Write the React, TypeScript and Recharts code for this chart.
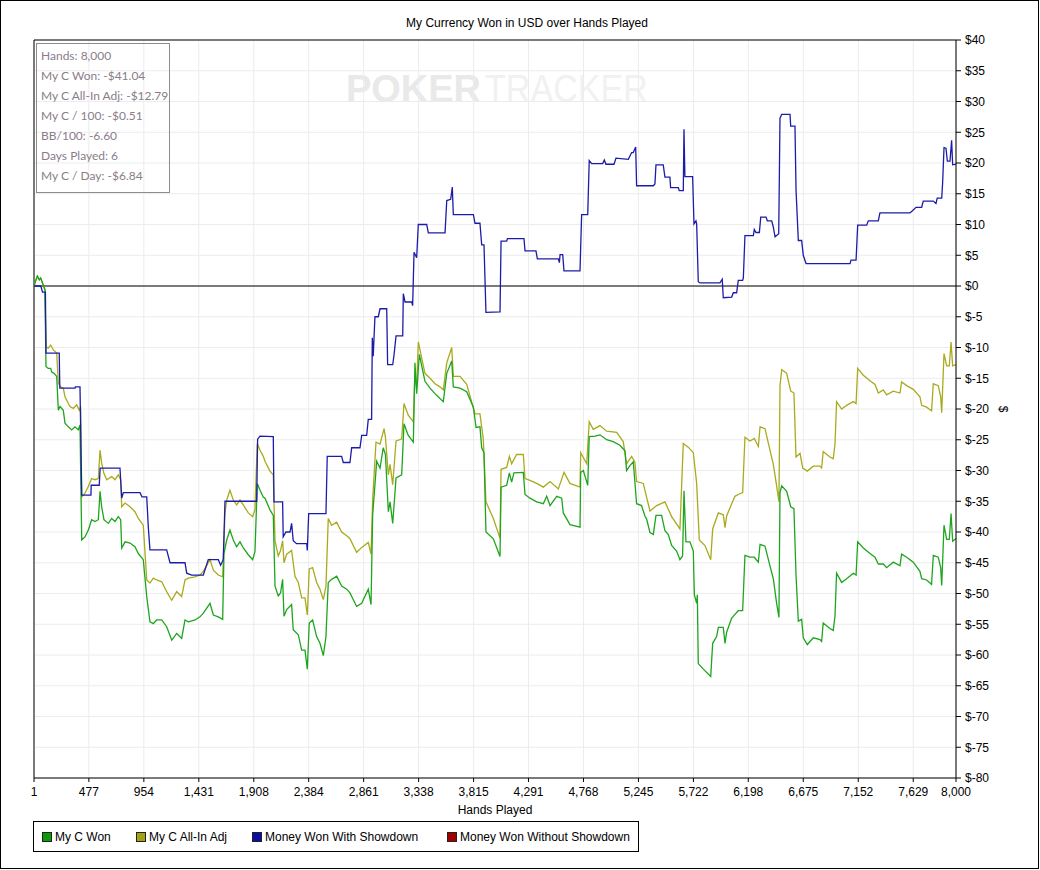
import React from 'react';
import { LineChart, Line, XAxis, YAxis, CartesianGrid, ReferenceLine, Label } from 'recharts';

const xTicks = [1, 477, 954, 1431, 1908, 2384, 2861, 3338, 3815, 4291, 4768, 5245, 5722, 6198, 6675, 7152, 7629, 8000];
const yTicks = [-80, -75, -70, -65, -60, -55, -50, -45, -40, -35, -30, -25, -20, -15, -10, -5, 0, 5, 10, 15, 20, 25, 30, 35, 40];

const statLines = [
  'Hands: 8,000',
  'My C Won: -$41.04',
  'My C All-In Adj: -$12.79',
  'My C / 100: -$0.51',
  'BB/100: -6.60',
  'Days Played: 6',
  'My C / Day: -$6.84',
];

const myCWon: [number, number][] = [
  [1, 0], [18, 1.0], [30, 1.6], [47, 1.0], [59, 1.3], [76, 0.4], [96, -0.6], [105, -13.1], [124, -13.4], [146, -13.4],
  [155, -14.0], [175, -14.2], [198, -14.7], [212, -20.2], [227, -19.6], [255, -20.2], [270, -22.3], [299, -22.9], [328, -23.4],
  [357, -22.9], [385, -23.4], [400, -22.6], [415, -41.3], [443, -40.8], [472, -39.7], [501, -38.0], [530, -38.3], [559, -38.0],
  [574, -33.4], [588, -35.9], [608, -38.0], [646, -38.6], [675, -37.8], [704, -38.3], [732, -37.5], [753, -38.0], [762, -42.6],
  [791, -41.6], [834, -41.8], [877, -42.4], [906, -43.5], [949, -44.5], [979, -50.5], [1007, -54.6], [1036, -54.9], [1065, -54.3],
  [1109, -54.3], [1152, -55.4], [1196, -57.6], [1239, -56.5], [1282, -57.3], [1311, -54.3], [1340, -54.6], [1398, -54.3],
  [1441, -53.8], [1470, -53.2], [1528, -51.6], [1557, -53.5], [1600, -53.8], [1638, -54.2], [1649, -43.5], [1673, -41.3],
  [1701, -39.7], [1730, -41.3], [1759, -42.4], [1788, -41.6], [1817, -42.6], [1860, -43.7], [1898, -44.5], [1918, -43.2],
  [1938, -32.1], [1962, -33.2], [1990, -34.3], [2005, -34.5], [2048, -36.4], [2077, -37.3], [2092, -48.8], [2120, -50.4],
  [2140, -49.9], [2158, -47.7], [2170, -53.7], [2193, -52.6], [2236, -51.8], [2250, -55.9], [2294, -56.7], [2323, -59.2],
  [2352, -59.2], [2372, -62.3], [2389, -54.8], [2418, -54.3], [2453, -57.0], [2482, -58.1], [2511, -60.1], [2534, -57.0],
  [2554, -48.2], [2583, -47.7], [2627, -47.2], [2670, -48.8], [2714, -49.3], [2742, -49.9], [2800, -52.1], [2844, -51.6],
  [2901, -49.3], [2925, -51.8], [2939, -37.3], [2974, -28.5], [3003, -29.6], [3031, -26.3], [3050, -27.4], [3075, -36.7],
  [3090, -35.1], [3113, -38.6], [3142, -31.2], [3191, -30.7], [3211, -22.4], [3248, -24.3], [3292, -25.4], [3306, -12.5],
  [3321, -17.5], [3344, -11.1], [3393, -15.5], [3437, -16.6], [3480, -17.5], [3523, -18.3], [3552, -18.8], [3582, -14.2],
  [3625, -12.2], [3639, -16.4], [3697, -16.6], [3755, -17.2], [3813, -19.7], [3836, -23.0], [3870, -22.9], [3885, -26.3],
  [3905, -27.1], [3922, -40.0], [3986, -41.1], [4044, -44.0], [4053, -32.7], [4102, -32.4], [4125, -30.4], [4145, -31.9],
  [4165, -30.4], [4246, -30.3], [4261, -33.9], [4304, -34.5], [4362, -35.1], [4420, -35.4], [4449, -34.2], [4478, -35.7],
  [4536, -34.2], [4579, -34.5], [4593, -36.9], [4651, -38.8], [4738, -39.2], [4744, -30.3], [4767, -30.0], [4805, -32.4],
  [4818, -24.5], [4868, -24.4], [4911, -24.2], [4969, -25.0], [5026, -25.3], [5084, -25.9], [5128, -26.8], [5142, -30.0],
  [5171, -29.2], [5200, -28.6], [5214, -31.8], [5229, -35.4], [5272, -35.7], [5301, -37.4], [5316, -37.9], [5345, -40.1],
  [5374, -40.4], [5397, -37.3], [5446, -37.3], [5475, -39.8], [5504, -40.4], [5533, -42.2], [5576, -43.1], [5605, -44.5],
  [5628, -43.9], [5640, -33.3], [5657, -41.6], [5692, -41.6], [5721, -43.1], [5730, -50.2], [5750, -51.6], [5756, -50.2],
  [5764, -61.4], [5808, -62.3], [5872, -63.5], [5889, -58.1], [5923, -57.0], [5938, -55.5], [5981, -55.5], [5996, -58.1],
  [6010, -56.3], [6054, -54.0], [6082, -53.4], [6111, -52.8], [6149, -52.8], [6169, -43.8], [6212, -44.1], [6250, -44.1],
  [6285, -44.9], [6300, -42.0], [6343, -42.3], [6386, -45.5], [6415, -47.6], [6444, -51.6], [6464, -53.9], [6473, -33.6],
  [6488, -32.5], [6531, -33.4], [6566, -35.9], [6594, -36.2], [6612, -47.0], [6632, -54.5], [6661, -54.2], [6675, -57.2],
  [6710, -58.3], [6762, -57.2], [6820, -57.5], [6834, -57.8], [6848, -54.8], [6906, -55.7], [6935, -56.0], [6950, -53.7],
  [6964, -46.7], [7008, -48.2], [7051, -47.6], [7109, -46.7], [7133, -47.0], [7147, -41.6], [7196, -42.6], [7254, -43.5],
  [7297, -44.1], [7326, -45.2], [7369, -45.2], [7398, -45.8], [7456, -44.9], [7514, -45.5], [7528, -43.6], [7572, -44.1],
  [7629, -44.9], [7687, -46.4], [7702, -47.6], [7745, -47.8], [7788, -48.5], [7803, -43.8], [7846, -44.1], [7867, -45.8],
  [7876, -48.7], [7896, -38.9], [7919, -41.2], [7942, -41.2], [7957, -37.0], [7971, -41.5], [8000, -41.04],
];

const myCAllInAdj: [number, number][] = [
  [1, 0], [18, 1.0], [30, 1.6], [47, 1.0], [59, 1.3], [76, 0.4], [96, -0.6], [105, -9.9], [124, -10.1], [146, -9.6],
  [169, -10.4], [198, -10.9], [212, -15.8], [233, -16.4], [255, -16.6], [270, -18.0], [299, -19.1], [313, -19.6], [342, -19.9],
  [371, -19.3], [394, -20.2], [406, -19.6], [415, -34.3], [443, -33.7], [472, -32.6], [501, -31.3], [530, -31.5], [559, -31.3],
  [574, -26.7], [588, -28.8], [608, -30.5], [632, -31.5], [675, -31.0], [704, -31.5], [732, -30.7], [753, -31.5], [762, -35.9],
  [791, -35.3], [834, -35.9], [877, -36.7], [906, -37.8], [949, -38.9], [979, -47.8], [1007, -48.3], [1036, -47.5], [1065, -47.8],
  [1109, -48.1], [1152, -49.7], [1196, -51.1], [1239, -49.7], [1282, -50.5], [1311, -47.8], [1340, -47.5], [1398, -47.3],
  [1441, -47.0], [1470, -46.4], [1528, -44.5], [1557, -46.2], [1600, -47.0], [1638, -47.3], [1658, -36.9], [1673, -34.8],
  [1701, -33.2], [1730, -34.8], [1759, -35.6], [1788, -34.8], [1817, -35.6], [1860, -36.9], [1898, -37.5], [1918, -36.4],
  [1938, -25.6], [1962, -26.7], [1990, -27.7], [2005, -28.5], [2048, -30.1], [2077, -30.7], [2092, -41.4], [2120, -43.9],
  [2140, -43.0], [2158, -41.4], [2170, -45.0], [2193, -43.6], [2236, -43.0], [2265, -47.2], [2294, -48.2], [2323, -50.7],
  [2352, -50.7], [2372, -53.5], [2389, -46.0], [2418, -45.8], [2453, -48.2], [2482, -49.3], [2511, -51.0], [2534, -48.8],
  [2554, -37.8], [2583, -38.9], [2627, -38.4], [2670, -40.0], [2714, -40.6], [2742, -41.1], [2800, -43.3], [2844, -42.5],
  [2901, -41.7], [2925, -43.6], [2939, -34.8], [2968, -25.4], [3003, -25.7], [3038, -23.2], [3050, -24.6], [3075, -30.7],
  [3090, -29.0], [3113, -32.3], [3142, -25.2], [3191, -24.9], [3211, -19.1], [3248, -21.0], [3292, -22.1], [3306, -14.2],
  [3321, -16.4], [3335, -9.1], [3393, -14.2], [3437, -15.0], [3480, -15.9], [3523, -16.4], [3552, -16.9], [3582, -12.5],
  [3625, -10.0], [3639, -14.7], [3697, -14.7], [3755, -16.0], [3827, -20.8], [3870, -20.8], [3899, -24.9], [3922, -35.1],
  [3986, -37.8], [4044, -41.0], [4053, -29.8], [4102, -29.5], [4125, -27.7], [4145, -28.9], [4188, -27.4], [4246, -27.4],
  [4261, -31.3], [4304, -31.6], [4362, -32.1], [4420, -32.7], [4478, -31.8], [4550, -33.0], [4599, -30.3], [4651, -32.1],
  [4738, -32.7], [4744, -27.1], [4796, -28.9], [4818, -22.1], [4853, -23.3], [4911, -22.7], [4969, -23.6], [5056, -23.8],
  [5113, -25.3], [5142, -28.9], [5186, -27.7], [5214, -28.6], [5229, -31.8], [5287, -32.1], [5345, -36.6], [5403, -35.7],
  [5475, -35.1], [5533, -37.5], [5605, -39.5], [5634, -25.6], [5677, -26.2], [5721, -27.1], [5750, -32.1], [5773, -41.3],
  [5822, -42.2], [5872, -44.5], [5889, -39.5], [5938, -36.9], [5981, -37.2], [5996, -39.3], [6010, -37.4], [6054, -35.4],
  [6082, -34.2], [6111, -33.9], [6149, -33.6], [6169, -24.6], [6212, -25.2], [6250, -24.8], [6285, -26.1], [6300, -22.9],
  [6343, -23.2], [6386, -26.7], [6415, -29.0], [6444, -32.5], [6464, -35.1], [6473, -16.2], [6488, -13.6], [6531, -14.2],
  [6566, -17.1], [6594, -17.4], [6612, -27.8], [6647, -27.2], [6670, -29.6], [6710, -30.1], [6762, -29.3], [6820, -29.3],
  [6834, -29.6], [6848, -26.9], [6906, -27.8], [6935, -28.1], [6950, -25.8], [6964, -18.8], [7008, -20.0], [7051, -19.4],
  [7109, -18.8], [7133, -19.1], [7147, -13.4], [7196, -14.5], [7254, -15.4], [7297, -16.0], [7326, -17.4], [7369, -16.9],
  [7398, -17.7], [7456, -17.1], [7514, -17.4], [7528, -15.6], [7572, -16.2], [7629, -16.8], [7687, -18.0], [7702, -19.4],
  [7745, -19.7], [7788, -20.3], [7803, -15.9], [7846, -16.2], [7867, -18.0], [7876, -20.6], [7896, -11.0], [7919, -13.0],
  [7942, -13.0], [7957, -9.1], [7971, -13.0], [8000, -12.79],
];

const wonWithShowdown: [number, number][] = [
  [1, 0], [60, 0], [75, -1.0], [100, -1.0], [105, -10.9], [220, -10.9], [225, -16.6], [357, -16.6], [360, -16.4], [400, -16.4],
  [415, -34.0], [495, -34.0], [497, -32.4], [567, -32.4], [575, -29.6], [747, -29.6], [762, -34.5], [776, -33.6], [921, -33.6],
  [938, -34.3], [979, -34.3], [993, -39.3], [1007, -42.9], [1152, -42.9], [1181, -45.0], [1311, -45.0], [1326, -46.7],
  [1369, -47.0], [1470, -47.0], [1513, -44.5], [1600, -44.5], [1620, -45.4], [1643, -44.5], [1658, -35.0], [1933, -35.0],
  [1941, -24.9], [1962, -24.4], [2077, -24.5], [2083, -35.1], [2158, -35.1], [2163, -40.8], [2187, -40.0], [2222, -40.0],
  [2236, -38.6], [2250, -41.4], [2279, -41.9], [2367, -41.9], [2372, -43.0], [2384, -37.0], [2534, -37.0], [2545, -27.7],
  [2670, -27.7], [2684, -28.7], [2742, -28.7], [2757, -26.3], [2829, -26.3], [2844, -24.3], [2887, -24.3], [2901, -21.7],
  [2930, -21.7], [2936, -8.4], [2944, -11.4], [2959, -5.0], [2988, -5.0], [3003, -3.7], [3061, -3.7], [3069, -12.8],
  [3113, -12.8], [3124, -11.3], [3142, -8.1], [3200, -8.1], [3205, -1.25], [3220, -2.6], [3278, -2.6], [3286, -3.2],
  [3298, 5.5], [3321, 4.6], [3335, 10.0], [3408, 10.0], [3422, 8.65], [3567, 8.65], [3582, 13.9], [3616, 14.1], [3630, 16.1],
  [3639, 11.6], [3813, 11.6], [3827, 10.2], [3870, 10.2], [3885, 6.7], [3905, 6.7], [3922, -4.3], [4044, -4.2], [4053, 7.3],
  [4102, 7.3], [4108, 7.7], [4252, 7.7], [4261, 5.7], [4356, 5.7], [4368, 4.4], [4550, 4.4], [4559, 3.8], [4565, 5.1],
  [4588, 5.1], [4599, 2.45], [4738, 2.45], [4752, 11.6], [4805, 11.6], [4818, 20.4], [4839, 19.9], [4935, 19.9], [4949, 20.5],
  [4963, 19.8], [5033, 19.8], [5050, 20.8], [5157, 20.6], [5186, 21.7], [5200, 21.7], [5221, 22.6], [5229, 16.3], [5374, 16.3],
  [5388, 16.6], [5397, 19.7], [5460, 19.7], [5475, 17.7], [5518, 17.7], [5524, 16.0], [5591, 16.0], [5599, 15.5], [5634, 15.5],
  [5640, 25.5], [5648, 17.8], [5715, 17.8], [5727, 10.1], [5744, 10.6], [5750, 10.1], [5764, 0.7], [5779, 0.5], [5952, 0.5],
  [5972, 1.1], [5981, -1.9], [6054, -1.8], [6068, -1.1], [6097, -1.1], [6111, 0.9], [6149, 0.9], [6155, 1.3], [6169, 8.2],
  [6242, 8.2], [6250, 9.2], [6265, 8.7], [6294, 8.7], [6306, 11.2], [6352, 11.2], [6363, 10.6], [6401, 10.6], [6415, 9.6],
  [6430, 8.0], [6462, 8.5], [6473, 27.3], [6488, 27.9], [6560, 27.9], [6566, 26.0], [6603, 26.0], [6612, 15.7], [6632, 7.4],
  [6661, 7.4], [6675, 5.0], [6699, 3.65], [7081, 3.65], [7089, 4.2], [7133, 4.2], [7147, 9.9], [7225, 9.9], [7239, 10.6],
  [7326, 10.6], [7340, 11.9], [7600, 11.9], [7615, 12.1], [7653, 12.8], [7702, 12.8], [7716, 13.8], [7803, 13.8], [7826, 13.4],
  [7837, 14.3], [7876, 14.3], [7884, 16.8], [7896, 22.5], [7913, 22.4], [7925, 20.3], [7948, 20.3], [7962, 23.7], [7971, 19.7],
  [8000, 19.8],
];

const wonWithoutShowdown: [number, number][] = [];

const series = [
  { name: 'My C Won', color: '#1ea51e', box: '#0a9a0a', values: myCWon, drawOrder: 1 },
  { name: 'My C All-In Adj', color: '#aaaa1e', box: '#a3a314', values: myCAllInAdj, drawOrder: 0 },
  { name: 'Money Won With Showdown', color: '#1c1caa', box: '#0c0ca6', values: wonWithShowdown, drawOrder: 2 },
  { name: 'Money Won Without Showdown', color: '#b01010', box: '#a00000', values: wonWithoutShowdown, drawOrder: 3 },
];

const toRows = (arr: [number, number][]) => arr.map(([h, v]) => ({ h, v }));
const fmtHands = (v: number) => v.toLocaleString('en-US');
const fmtMoney = (v: number) => (v < 0 ? `$-${-v}` : `$${v}`);

const FONT = '"Liberation Sans", Arial, sans-serif';

export default function App() {
  const drawn = [...series].sort((a, b) => a.drawOrder - b.drawOrder);
  return (
    <div style={{ position: 'absolute', left: 0, top: 0, width: 1040, height: 870, background: '#fff', fontFamily: FONT }}>
      <div style={{ position: 'absolute', left: 0, top: 0, width: 1039, height: 869, border: '1px solid #000', boxSizing: 'border-box' }} />
      <svg style={{ position: 'absolute', left: 0, top: 0 }} width={1040} height={870}>
        <text x={346} y={102} fontFamily={FONT} fontWeight="bold" fontSize={38} fill="#e9e9e9" textLength={135} lengthAdjust="spacingAndGlyphs">POKER</text>
        <text x={485} y={102} fontFamily={FONT} fontSize={38} fill="#f1f1f1" textLength={163} lengthAdjust="spacingAndGlyphs">TRACKER</text>
      </svg>
      <div style={{ position: 'absolute', left: 327, width: 400, top: 16, textAlign: 'center', fontSize: 12, color: '#000' }}>
        My Currency Won in USD over Hands Played
      </div>
      <div style={{ position: 'absolute', left: 0, top: 0 }}>
        <LineChart width={1040} height={870} margin={{ top: 40, left: 34, right: 14, bottom: 52 }}>
          <CartesianGrid stroke="#ececec" strokeWidth={1} />
          <XAxis
            dataKey="h"
            type="number"
            domain={[1, 8000]}
            ticks={xTicks}
            interval={0}
            tickFormatter={fmtHands}
            allowDuplicatedCategory={false}
            height={40}
            axisLine={{ stroke: '#000' }}
            tickLine={{ stroke: '#000' }}
            tickSize={4}
            tickMargin={5}
            tick={{ fill: '#000', fontSize: 12, fontFamily: FONT }}
          >
            <Label value="Hands Played" position="insideBottom" offset={4} fill="#000" fontSize={12} fontFamily={FONT} />
          </XAxis>
          <YAxis
            orientation="right"
            type="number"
            domain={[-80, 40]}
            ticks={yTicks}
            interval={0}
            tickFormatter={fmtMoney}
            width={70}
            axisLine={{ stroke: '#000' }}
            tickLine={{ stroke: '#000' }}
            tickSize={5}
            tickMargin={4}
            tick={{ fill: '#000', fontSize: 12, fontFamily: FONT, textAnchor: 'start' }}
          >
            <Label value="$" position="center" angle={90} dx={12} fill="#000" fontSize={12} fontFamily={FONT} />
          </YAxis>
          <ReferenceLine y={40} stroke="#000" strokeWidth={1} />
          <ReferenceLine x={1} stroke="#000" strokeWidth={1} />
          <ReferenceLine y={0} stroke="#000" strokeWidth={1} />
          {drawn.map((s) => (
            <Line
              key={s.name}
              name={s.name}
              data={toRows(s.values)}
              dataKey="v"
              type="linear"
              stroke={s.color}
              strokeWidth={1.3}
              dot={false}
              activeDot={false}
              isAnimationActive={false}
            />
          ))}
        </LineChart>
      </div>
      <div style={{ position: 'absolute', left: 36, top: 43, width: 134, height: 150, border: '1px solid #8c8c8c', boxSizing: 'border-box', fontFamily: 'Lato, sans-serif', fontSize: 12, color: '#8a7d8a' }}>
        {statLines.map((t, i) => (
          <div key={i} style={{ position: 'absolute', left: 4, top: 4 + i * 20, whiteSpace: 'nowrap' }}>{t}</div>
        ))}
      </div>
      <div style={{ position: 'absolute', left: 33, top: 821, width: 606, height: 31, border: '1px solid #000', boxSizing: 'border-box', fontSize: 12 }}>
        {series.map((s, i) => {
          const lefts = [8, 102, 218, 413];
          return (
            <div key={s.name} style={{ position: 'absolute', left: lefts[i], top: 8, display: 'flex', alignItems: 'center', whiteSpace: 'nowrap' }}>
              <span style={{ display: 'inline-block', width: 8, height: 8, background: s.box, border: '1px solid #222', marginRight: 3 }} />
              <span>{s.name}</span>
            </div>
          );
        })}
      </div>
    </div>
  );
}
